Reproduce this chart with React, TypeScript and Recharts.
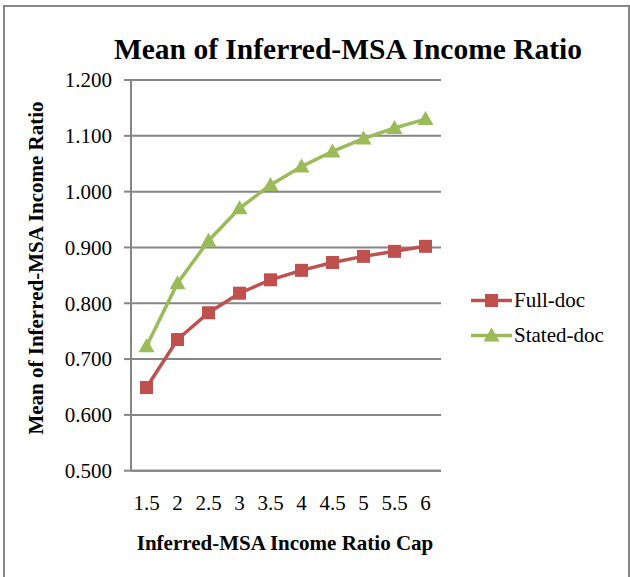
import React from 'react';
import { LineChart, Line, XAxis, YAxis, CartesianGrid, Legend } from 'recharts';

const caps = [1.5, 2, 2.5, 3, 3.5, 4, 4.5, 5, 5.5, 6];
const fullDoc = [0.649, 0.735, 0.783, 0.818, 0.842, 0.859, 0.873, 0.884, 0.893, 0.902];
const statedDoc = [0.723, 0.836, 0.912, 0.970, 1.012, 1.045, 1.072, 1.095, 1.114, 1.130];
const yTicks = [0.5, 0.6, 0.7, 0.8, 0.9, 1.0, 1.1, 1.2];
const seriesNames = ['Full-doc', 'Stated-doc'];
const chartTitle = 'Mean of Inferred-MSA Income Ratio';
const yTitle = 'Mean of Inferred-MSA Income Ratio';
const xTitle = 'Inferred-MSA Income Ratio Cap';

const data = caps.map((c, i) => ({ cap: c, full: fullDoc[i], stated: statedDoc[i] }));
const halfStep = 0.25;
const bounds = [...caps.map((c) => c - halfStep), caps[caps.length - 1] + halfStep];

const FONT = "'Liberation Serif', serif";
const GRAY = '#868686';
const RED = '#C0504D';
const GREEN = '#9BBB59';

const squareAt = (cx: number, cy: number, color: string, key?: any) => (
  <rect key={key} x={cx - 6.5} y={cy - 6.5} width={13} height={13} fill={color} />
);
const triangleAt = (cx: number, cy: number, color: string, key?: any) => (
  <polygon
    key={key}
    points={`${cx},${cy - 8} ${cx + 8},${cy + 6} ${cx - 8},${cy + 6}`}
    fill={color}
  />
);

const SquareDot = (props: any) => {
  const { cx, cy, key } = props;
  if (cx == null || cy == null) return <g key={key} />;
  return squareAt(cx, cy, RED, key);
};
const TriangleDot = (props: any) => {
  const { cx, cy, key } = props;
  if (cx == null || cy == null) return <g key={key} />;
  return triangleAt(cx, cy, GREEN, key);
};

const XTick = (props: any) => {
  const { x, y, payload } = props;
  return (
    <text x={x} y={y} dy={14.9} textAnchor="middle" fill="#000" style={{ fontFamily: FONT, fontSize: 21 }}>
      {String(payload.value)}
    </text>
  );
};
const YTick = (props: any) => {
  const { x, y, payload } = props;
  return (
    <text x={x} y={y} dy={7.4} textAnchor="end" fill="#000" style={{ fontFamily: FONT, fontSize: 21 }}>
      {Number(payload.value).toFixed(3)}
    </text>
  );
};

const legendItems = [
  { name: seriesNames[0], color: RED, marker: squareAt },
  { name: seriesNames[1], color: GREEN, marker: triangleAt },
];

const LegendContent = () => (
  <div style={{ width: 150, color: '#000' }}>
    {legendItems.map((it) => (
      <svg key={it.name} width={150} height={35} style={{ display: 'block' }}>
        <line x1={0} x2={41} y1={17.5} y2={17.5} stroke={it.color} strokeWidth={3.5} />
        {it.marker(20.5, 17.5, it.color)}
        <text x={43} y={24} fill="#000" style={{ fontFamily: FONT, fontSize: 21 }}>
          {it.name}
        </text>
      </svg>
    ))}
  </div>
);

export default function App() {
  return (
    <div
      style={{
        position: 'absolute',
        left: 0,
        top: 0,
        width: 630,
        height: 577,
        background: '#fff',
        fontFamily: FONT,
        overflow: 'hidden',
      }}
    >
      <div
        style={{
          position: 'absolute',
          left: 3,
          top: 5,
          width: 627,
          height: 572,
          boxSizing: 'border-box',
          border: `2px solid ${GRAY}`,
          borderBottom: 'none',
        }}
      />
      <div style={{ position: 'absolute', left: 0, top: 0 }}>
        <LineChart
          width={630}
          height={577}
          data={data}
          margin={{ top: 80, right: 39, bottom: 26.3, left: 0 }}
          style={{ fontFamily: FONT }}
        >
          <CartesianGrid horizontal vertical={false} stroke={GRAY} strokeWidth={2} />
          <XAxis
            xAxisId="bounds"
            dataKey="cap"
            type="number"
            domain={[bounds[0], bounds[bounds.length - 1]]}
            ticks={bounds}
            interval={0}
            height={0}
            axisLine={false}
            tick={() => <g />}
            tickLine={{ stroke: GRAY, strokeWidth: 2 }}
            tickSize={6}
          />
          <XAxis
            xAxisId="main"
            dataKey="cap"
            type="number"
            domain={[bounds[0], bounds[bounds.length - 1]]}
            ticks={caps}
            interval={0}
            height={80}
            axisLine={{ stroke: GRAY, strokeWidth: 2 }}
            tickLine={false}
            tickSize={6}
            tickMargin={18}
            tick={XTick}
          />
          <YAxis
            type="number"
            domain={[0.5, 1.2]}
            ticks={yTicks}
            interval={0}
            width={131}
            axisLine={{ stroke: GRAY, strokeWidth: 2 }}
            tickLine={{ stroke: GRAY, strokeWidth: 2 }}
            tickSize={7}
            tickMargin={12}
            tick={YTick}
          />
          <Legend
            layout="vertical"
            align="right"
            verticalAlign="middle"
            wrapperStyle={{ left: 471, top: 283, width: 150 }}
            content={() => <LegendContent />}
          />
          <Line
            xAxisId="main"
            dataKey="full"
            name={seriesNames[0]}
            stroke={RED}
            strokeWidth={3.5}
            dot={SquareDot}
            activeDot={false}
            isAnimationActive={false}
          />
          <Line
            xAxisId="main"
            dataKey="stated"
            name={seriesNames[1]}
            stroke={GREEN}
            strokeWidth={3.5}
            dot={TriangleDot}
            activeDot={false}
            isAnimationActive={false}
          />
        </LineChart>
      </div>
      <svg
        width={630}
        height={577}
        style={{ position: 'absolute', left: 0, top: 0, pointerEvents: 'none' }}
      >
        <text x={348} y={59} textAnchor="middle" fill="#000" style={{ fontFamily: FONT, fontSize: 29.5, fontWeight: 'bold' }}>
          {chartTitle}
        </text>
        <text
          x={0}
          y={0}
          transform="translate(43, 268) rotate(-90)"
          textAnchor="middle"
          fill="#000"
          style={{ fontFamily: FONT, fontSize: 21, fontWeight: 'bold' }}
        >
          {yTitle}
        </text>
        <text x={285} y={550} textAnchor="middle" fill="#000" style={{ fontFamily: FONT, fontSize: 21, fontWeight: 'bold' }}>
          {xTitle}
        </text>
      </svg>
    </div>
  );
}
